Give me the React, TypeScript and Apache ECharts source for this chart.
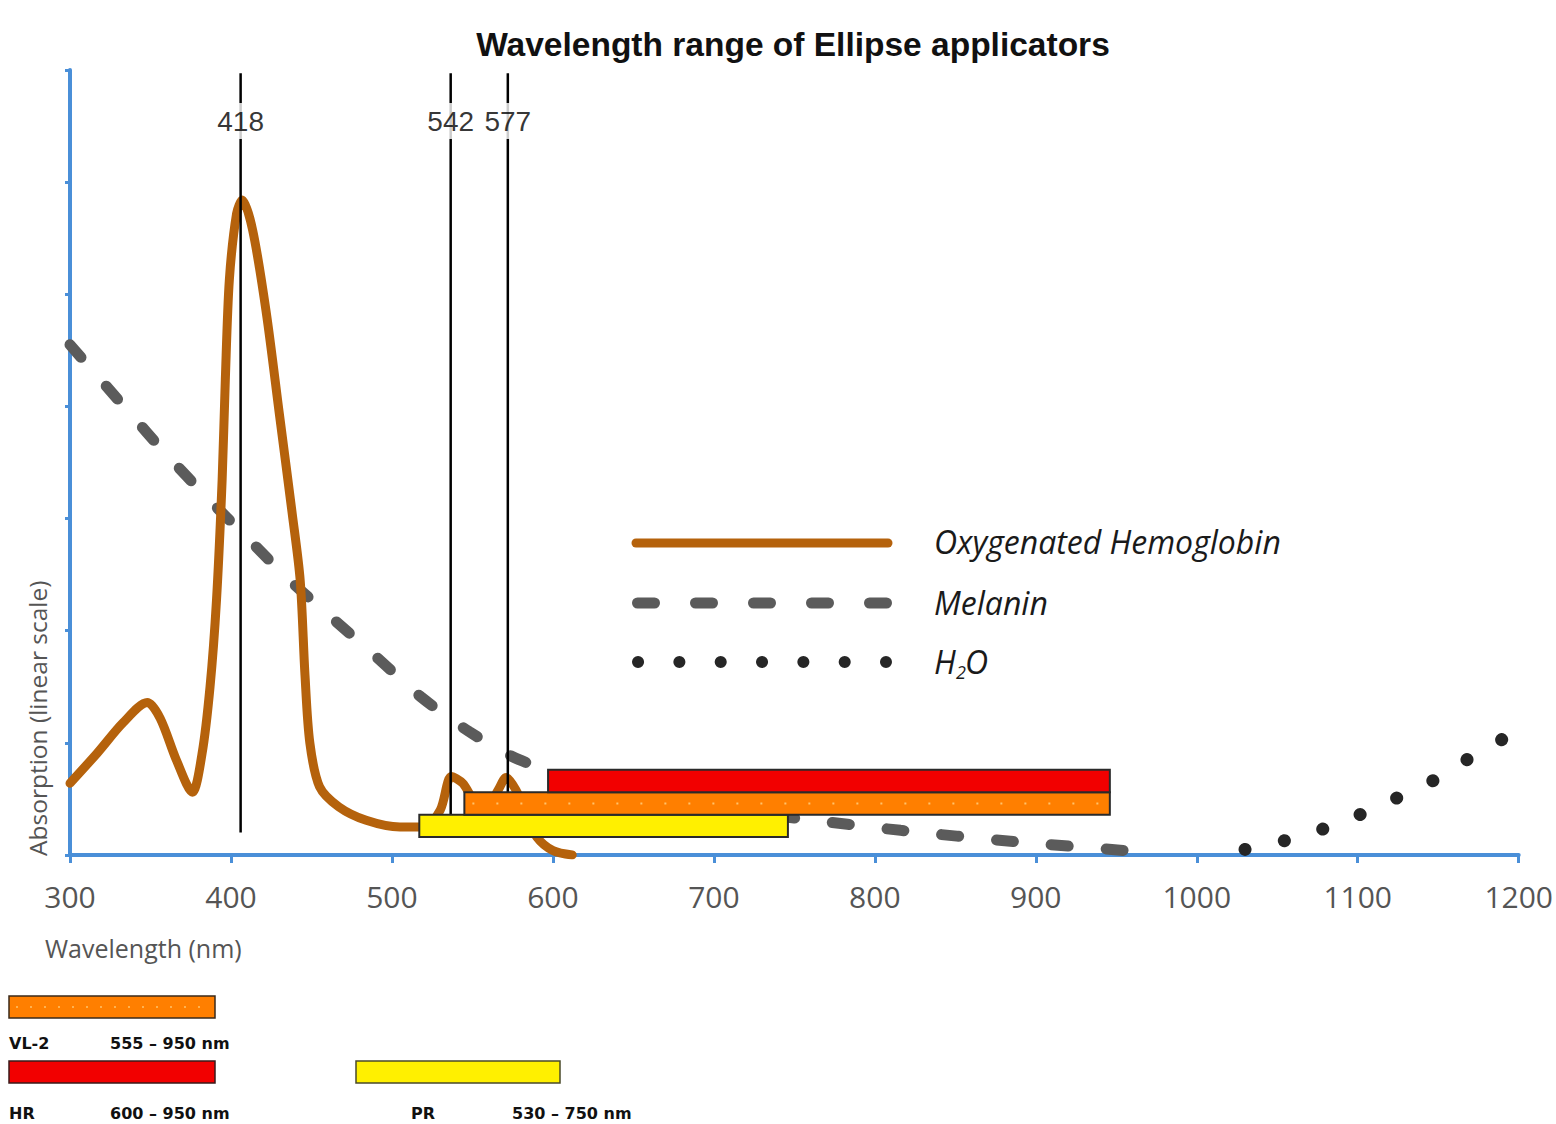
import React, { useEffect, useRef } from 'react';
import * as echarts from 'echarts';

const titleText = 'Wavelength range of Ellipse applicators';
const xAxisName = 'Wavelength (nm)';
const yAxisName = 'Absorption (linear scale)';

const hemoglobinNm = [300, 317, 333, 348, 356, 366, 376, 382, 387, 391, 394.5, 396.5, 399, 403.5, 407, 413.5, 422, 430, 438, 443, 446, 449, 455, 467, 484, 505, 520, 530, 537, 544, 552, 560, 566, 571, 577, 584, 590, 600, 612];
const hemoglobinAbs = [0.64, 0.91, 1.18, 1.36, 1.22, 0.85, 0.56, 0.9, 1.5, 2.27, 3.34, 4.24, 5.13, 5.72, 5.84, 5.57, 4.83, 3.94, 3.05, 2.45, 1.6, 1.0, 0.61, 0.43, 0.31, 0.25, 0.25, 0.4, 0.7, 0.64, 0.47, 0.45, 0.58, 0.69, 0.58, 0.35, 0.16, 0.04, 0.0];

const melaninNm = [300, 336, 360, 385, 410, 435, 463, 490, 518, 548, 579, 620, 660, 700, 750, 816, 886, 955, 962];
const melaninAbs = [4.55, 3.96, 3.57, 3.19, 2.83, 2.47, 2.11, 1.77, 1.41, 1.1, 0.85, 0.66, 0.53, 0.42, 0.33, 0.22, 0.12, 0.04, 0.02];

const waterNm = [1030, 1055, 1080, 1103, 1126, 1149, 1169, 1197];
const waterAbs = [0.05, 0.13, 0.24, 0.37, 0.52, 0.68, 0.86, 1.09];

const peakNm = [406, 536.5, 572];
const peakLabels = ['418', '542', '577'];

const applicatorNames = ['PR', 'VL-2', 'HR'];
const applicatorStart = [517, 545, 597];
const applicatorEnd = [746, 946, 946];
const applicatorRanges = ['530 – 750 nm', '555 – 950 nm', '600 – 950 nm'];

const seriesNames = ['Oxygenated Hemoglobin', 'Melanin', 'H', '2', 'O'];

const AXIS_BLUE = '#4a8fd8';
const HB_COLOR = '#b5620c';
const MEL_COLOR = '#5b5b5b';
const WATER_COLOR = '#262626';
const APP_COLORS = ['#fff000', '#ff7f00', '#f20000'];
const BAND_BASE = 0.16;
const BAND_H = 0.2;

function pairs(xs: number[], ys: number[]) {
  return xs.map((x, i) => [x, ys[i]]);
}

export default function App() {
  const ref = useRef<HTMLDivElement>(null);
  useEffect(() => {
    const chart = echarts.init(ref.current as HTMLDivElement, null, { renderer: 'svg' });

    const peakSeries = peakNm.map((x, i) => ({
      type: 'line',
      name: 'peak-' + peakLabels[i],
      data: [[x, 0.2], [x, 6.97]],
      showSymbol: false,
      symbol: 'none',
      silent: true,
      z: 4,
      lineStyle: { color: '#000', width: 2.5 },
    }));

    const legendFont = { fontSize: 32, fontStyle: 'italic', fontFamily: 'Open Sans', fill: '#1a1a1a', verticalAlign: 'middle' };
    const legendItems: any[] = [
      { type: 'line', shape: { x1: 636, y1: 543, x2: 888, y2: 543 }, style: { stroke: HB_COLOR, lineWidth: 9, lineCap: 'round' } },
      { type: 'line', shape: { x1: 637.5, y1: 603, x2: 886.5, y2: 603 }, style: { stroke: MEL_COLOR, lineWidth: 11, lineCap: 'round', lineDash: [17, 41] } },
      { type: 'line', shape: { x1: 638, y1: 662, x2: 886, y2: 662 }, style: { stroke: WATER_COLOR, lineWidth: 12, lineCap: 'round', lineDash: [0.1, 41.23] } },
      { type: 'text', x: 934, y: 541, style: { ...legendFont, text: seriesNames[0] } },
      { type: 'text', x: 934, y: 602, style: { ...legendFont, text: seriesNames[1] } },
      { type: 'text', x: 934, y: 661, style: { ...legendFont, text: seriesNames[2] } },
      { type: 'text', x: 956, y: 672, style: { ...legendFont, fontSize: 18, text: seriesNames[3] } },
      { type: 'text', x: 965, y: 661, style: { ...legendFont, text: seriesNames[4] } },
    ];

    const labelFont = { fontSize: 16, fontWeight: 'bold', fontFamily: 'DejaVu Sans', fill: '#111', verticalAlign: 'middle' };
    const bottomLegend: any[] = [
      { type: 'rect', shape: { x: 9, y: 996, width: 206, height: 22 }, style: { fill: APP_COLORS[1], stroke: '#3a2a1a', lineWidth: 1.5 } },
      { type: 'line', shape: { x1: 16, y1: 1007, x2: 208, y2: 1007 }, style: { stroke: '#ffc36b', lineWidth: 1.5, lineDash: [2, 12] } },
      { type: 'text', x: 9, y: 1043, style: { ...labelFont, text: applicatorNames[1] } },
      { type: 'text', x: 110, y: 1043, style: { ...labelFont, text: applicatorRanges[1] } },
      { type: 'rect', shape: { x: 9, y: 1061, width: 206, height: 22 }, style: { fill: APP_COLORS[2], stroke: '#3a1a1a', lineWidth: 1.5 } },
      { type: 'text', x: 9, y: 1113, style: { ...labelFont, text: applicatorNames[2] } },
      { type: 'text', x: 110, y: 1113, style: { ...labelFont, text: applicatorRanges[2] } },
      { type: 'rect', shape: { x: 356, y: 1061, width: 204, height: 22 }, style: { fill: APP_COLORS[0], stroke: '#4a4a2a', lineWidth: 1.5 } },
      { type: 'text', x: 411, y: 1113, style: { ...labelFont, text: applicatorNames[0] } },
      { type: 'text', x: 512, y: 1113, style: { ...labelFont, text: applicatorRanges[0] } },
    ];

    const option: any = {
      animation: false,
      backgroundColor: '#ffffff',
      title: {
        text: titleText,
        left: 788,
        top: 22,
        textAlign: 'center',
        textStyle: { fontSize: 33.5, fontWeight: 'bold', fontFamily: 'Liberation Sans, Arial', color: '#111' },
      },
      grid: { left: 70, right: 32, top: 70, bottom: 269, containLabel: false },
      xAxis: {
        type: 'value',
        min: 300,
        max: 1200,
        interval: 100,
        axisLine: { show: true, onZero: false, lineStyle: { color: AXIS_BLUE, width: 4 } },
        axisTick: { show: true, length: 8, lineStyle: { color: AXIS_BLUE, width: 3 } },
        axisLabel: { fontSize: 30, color: '#555', fontFamily: 'Open Sans', margin: 26, formatter: (v: number) => String(v) },
        splitLine: { show: false },
      },
      yAxis: {
        type: 'value',
        min: 0,
        max: 7,
        interval: 1,
        axisLine: { show: true, onZero: false, lineStyle: { color: AXIS_BLUE, width: 4 } },
        axisTick: { show: true, length: 5, lineStyle: { color: AXIS_BLUE, width: 3 } },
        axisLabel: { show: false },
        splitLine: { show: false },
      },
      series: [
        {
          type: 'line',
          name: 'Melanin',
          data: pairs(melaninNm, melaninAbs),
          smooth: 0.3,
          showSymbol: false,
          symbol: 'none',
          z: 2,
          lineStyle: { color: MEL_COLOR, width: 11, type: [17, 38], cap: 'round' },
        },
        {
          type: 'line',
          name: 'H2O',
          data: pairs(waterNm, waterAbs),
          smooth: 0.3,
          showSymbol: false,
          symbol: 'none',
          z: 2,
          lineStyle: { color: WATER_COLOR, width: 13, type: [0.1, 40], cap: 'round' },
        },
        {
          type: 'line',
          name: 'Oxygenated Hemoglobin',
          data: pairs(hemoglobinNm, hemoglobinAbs),
          smooth: 0.3,
          showSymbol: false,
          symbol: 'none',
          z: 3,
          lineStyle: { color: HB_COLOR, width: 9, cap: 'round', join: 'round' },
        },
        ...peakSeries,
        {
          type: 'scatter',
          name: 'peak-labels',
          data: peakNm.map((x) => [x, 6.545]),
          symbolSize: 1,
          itemStyle: { color: 'rgba(0,0,0,0)' },
          z: 6,
          label: {
            show: true,
            position: 'inside',
            formatter: (p: any) => peakLabels[p.dataIndex],
            fontSize: 28,
            fontFamily: 'Liberation Sans, Arial',
            color: '#000',
            backgroundColor: '#ffffff',
            padding: [5, 1, 3, 1],
          },
        },
        {
          type: 'custom',
          name: 'applicators',
          z: 10,
          data: applicatorStart.map((s, i) => [s, applicatorEnd[i], i]),
          encode: { x: [0, 1], y: 2 },
          renderItem: (params: any, api: any) => {
            const x0 = api.value(0);
            const x1 = api.value(1);
            const row = api.value(2);
            const p0 = api.coord([x0, BAND_BASE + (row + 1) * BAND_H]);
            const p1 = api.coord([x1, BAND_BASE + row * BAND_H]);
            const children: any[] = [
              {
                type: 'rect',
                shape: { x: p0[0], y: p0[1], width: p1[0] - p0[0], height: p1[1] - p0[1] },
                style: { fill: APP_COLORS[row], stroke: '#2a2a2a', lineWidth: 2 },
              },
            ];
            if (row === 1) {
              const my = (p0[1] + p1[1]) / 2;
              children.push({
                type: 'line',
                shape: { x1: p0[0] + 8, y1: my, x2: p1[0] - 8, y2: my },
                style: { stroke: '#ffc36b', lineWidth: 2, lineDash: [2, 22] },
              });
            }
            return { type: 'group', children };
          },
        },
      ],
      graphic: [
        { type: 'text', x: 45, y: 948, style: { text: xAxisName, fontSize: 25, fontFamily: 'Open Sans', fill: '#555', verticalAlign: 'middle' } },
        { type: 'text', x: 37, y: 856, rotation: Math.PI / 2, style: { text: yAxisName, fontSize: 24.5, fontFamily: 'Open Sans', fill: '#555', align: 'left', verticalAlign: 'middle' } },
        ...legendItems,
        ...bottomLegend,
      ],
    };

    chart.setOption(option);
    return () => chart.dispose();
  }, []);

  return (
    <div
      ref={ref}
      style={{ position: 'absolute', left: 0, top: 0, width: 1556, height: 1124, background: '#fff' }}
    />
  );
}
